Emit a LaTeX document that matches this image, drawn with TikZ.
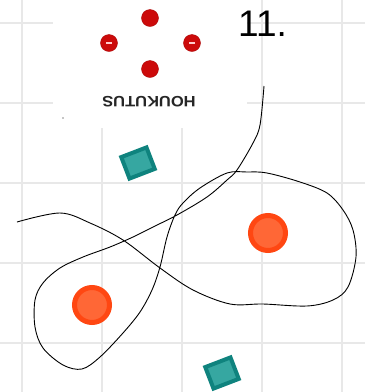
\documentclass[tikz,border=0pt]{standalone}
\usepackage{fontspec}
\setmainfont{Liberation Sans}
\definecolor{gridgray}{HTML}{E8E8E8}
\definecolor{tealdark}{HTML}{0F837E}
\definecolor{teallight}{HTML}{36A7A1}
\definecolor{orangedark}{HTML}{FF4712}
\definecolor{orangelight}{HTML}{FF6736}
\definecolor{dotred}{HTML}{CC0A0A}
\begin{document}
\begin{tikzpicture}[x=1pt,y=-1pt,
  gridline/.style={draw=gridgray, line width=1.8pt},
  reddot/.style={circle, fill=dotred, draw=dotred!85!black, line width=0.4pt, minimum size=17pt, inner sep=0pt},
  minusbar/.style={draw=white!80!red, line width=1.2pt},
  tealsq/.style={rectangle, draw=tealdark, fill=teallight, line width=4pt, minimum width=27pt, minimum height=23pt, inner sep=0pt, rotate=21},
  orangedot/.style={circle, draw=orangedark, fill=orangelight, line width=5pt, minimum size=35pt, inner sep=0pt},
  curve/.style={draw=black, line width=0.9pt}]
\fill[white] (0,0) rectangle (365,392);
\useasboundingbox (0,0) rectangle (365,392);
% grid
\foreach \g in {22,102,182,262,342} {
  \draw[gridline] (\g,0) -- (\g,392);
  \draw[gridline] (0,\g+1) -- (365,\g+1);
}
% pasted picture
\fill[white] (53,0) rectangle (247,128);
\node[reddot] (dt) at (150,18) {};
\node[reddot] (dl) at (109,43) {};
\node[reddot] (dr) at (192,43) {};
\node[reddot] (db) at (150,69) {};
\draw[minusbar] ([xshift=-3pt]dl.center) -- ([xshift=3pt]dl.center);
\draw[minusbar] ([xshift=-3pt]dr.center) -- ([xshift=3pt]dr.center);
\node[rotate=180, font=\bfseries\fontsize{15}{17}\selectfont, text=black!85, xscale=1.1, inner sep=0pt] (lbl) at (149,102) {HOUKUTUS};
\fill[black!45] (63,118) circle (0.9);
% number
\node[anchor=base west, font=\fontsize{37}{40}\selectfont, inner sep=0pt] (num) at (238,36) {11.};
% squares
\node[tealsq] (sq1) at (138,163) {};
\node[tealsq] (sq2) at (222,373) {};
% circles
\node[orangedot] (c1) at (268,233) {};
\node[orangedot] (c2) at (92,305) {};
% curve
\draw[curve] plot[smooth, tension=0.55] coordinates {
 (17,222) (60,213) (90,223) (123,240) (160,268) (193,290) (230,304) (263,304) (307,306)
 (333,300) (348,287) (356,257) (353,230) (343,210) (327,193) (300,182) (267,173) (247,172)
 (227,173) (200,188) (183,203) (175,215) (167,237) (160,267) (152,290) (140,312) (123,333)
 (100,357) (82,369) (63,365) (43,348) (35,327) (35,300) (43,283) (60,268) (83,257) (110,247)
 (133,237) (153,227) (177,215) (207,197) (227,180) (237,170) (253,143) (260,125) (264,86)};
\end{tikzpicture}
\end{document}
